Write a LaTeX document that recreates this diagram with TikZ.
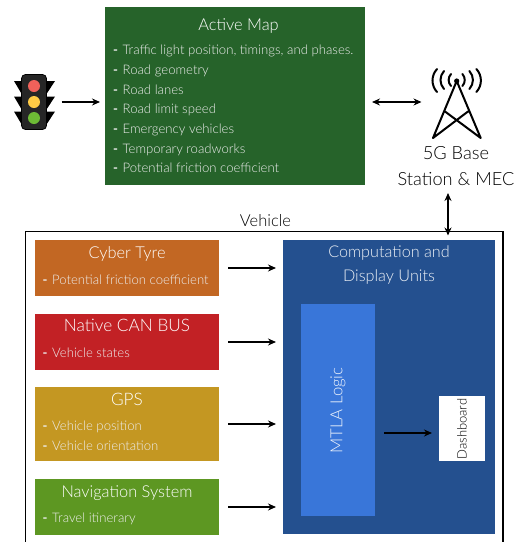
\documentclass[tikz,border=0pt]{standalone}
\usepackage{fontspec}
\setmainfont{Lato}[UprightFont=* Light,BoldFont=* Bold]
\usetikzlibrary{arrows.meta}
\definecolor{mapgreen}{HTML}{26632A}
\definecolor{tyre}{HTML}{C26723}
\definecolor{can}{HTML}{C22125}
\definecolor{gps}{HTML}{C49722}
\definecolor{nav}{HTML}{5D9722}
\definecolor{comp}{HTML}{24508F}
\definecolor{mtla}{HTML}{3976D9}
\definecolor{lampred}{HTML}{F0615A}
\definecolor{lampyellow}{HTML}{FFCB45}
\definecolor{lampgreen}{HTML}{6DBB35}
\newcommand{\dashitem}[1]{\textbf{-}\hspace{4.6pt}#1}
\tikzset{
  x=1pt,y=-1pt,
  panel/.style={inner sep=0pt,outer sep=0pt,anchor=north west},
  head/.style={text=white,font=\fontsize{16.4}{20}\selectfont,anchor=base,inner sep=0pt},
  items/.style={text=white!93!black,font=\fontsize{13.15}{19.7}\selectfont,align=left,anchor=west,inner sep=0pt},
  arr/.style={line width=1.3pt,-{Stealth[length=8pt,width=7pt]}},
  dbl/.style={line width=1.3pt,{Stealth[length=8pt,width=7pt]}-{Stealth[length=8pt,width=7pt]}},
  plain/.style={text=black,font=\fontsize{16.5}{26}\selectfont,inner sep=0pt,align=center},
  wave/.style={line width=2pt,line cap=round},
  tower/.style={line width=2pt,line cap=round,line join=round}
}
\begin{document}
\begin{tikzpicture}
\useasboundingbox (0,0) rectangle (527,542);
\fill[white] (0,0) rectangle (527,542);

% vehicle frame (runs off the bottom)
\coordinate (vbl) at (25.5,542);
\coordinate (vtl) at (25.5,231.5);
\coordinate (vtr) at (503,231.5);
\coordinate (vbr) at (503,542);
\draw[line width=1.3pt] (vbl) -- (vtl) -- (vtr) -- (vbr);
\node[plain] (vehiclelabel) at (265.5,220.5) {Vehicle};

% panels
\node[panel,fill=mapgreen,minimum width=260pt,minimum height=178pt] (map) at (105,7) {};
\node[head] (maphead) at (238.5,30) {Active Map};
\node[items] (maplist) at (113,109) {\dashitem{Traffic light position, timings, and phases.}\\\dashitem{Road geometry}\\\dashitem{Road lanes}\\\dashitem{Road limit speed}\\\dashitem{Emergency vehicles}\\\dashitem{Temporary roadworks}\\\dashitem{Potential friction coefficient}};

\node[panel,fill=tyre,minimum width=184pt,minimum height=56pt] (cyber) at (35,240) {};
\node[head] (cyberhead) at (127,258) {Cyber Tyre};
\node[items] (cyberlist) at (42.5,279.5) {\dashitem{Potential friction coefficient}};

\node[panel,fill=can,minimum width=184pt,minimum height=56pt] (canbus) at (35,314) {};
\node[head,font=\fontsize{17.2}{20}\selectfont] (canhead) at (127,331.5) {Native CAN BUS};
\node[items] (canlist) at (42.5,353) {\dashitem{Vehicle states}};

\node[panel,fill=gps,minimum width=184pt,minimum height=74pt] (gpsbox) at (35,387) {};
\node[head,font=\fontsize{17.2}{20}\selectfont] (gpshead) at (127,405) {GPS};
\node[items] (gpslist) at (42.5,436) {\dashitem{Vehicle position}\\\dashitem{Vehicle orientation}};

\node[panel,fill=nav,minimum width=184pt,minimum height=56pt] (navbox) at (35,479) {};
\node[head] (navhead) at (127,497) {Navigation System};
\node[items] (navlist) at (42.5,518.5) {\dashitem{Travel itinerary}};

\node[panel,fill=comp,minimum width=212pt,minimum height=294pt] (compbox) at (283,240) {};
\node[anchor=center,inner sep=0pt,align=center,font=\fontsize{16.2}{24}\selectfont,text=white!92!comp] (comphead) at (389,265.5) {Computation and\\Display Units};
\node[panel,fill=mtla,minimum width=74pt,minimum height=212pt] (logic) at (301,304) {};
\node[anchor=center,inner sep=0pt,rotate=90,text=white!92!mtla,font=\fontsize{16.7}{20}\selectfont] (logiclabel) at (338,410.5) {MTLA Logic};
\node[panel,fill=white,minimum width=46pt,minimum height=65pt] (dash) at (439,396) {};
\node[rotate=90,inner sep=0pt,text=black,font=\fontsize{13}{15}\selectfont] (dashlabel) at (462,429) {Dashboard};

% traffic light
\fill[black] (14,81) -- (21.7,81) -- (21.7,94) -- cycle;
\fill[black] (14,96.5) -- (21.7,96.5) -- (21.7,109.5) -- cycle;
\fill[black] (14,111.5) -- (21.7,111.5) -- (21.7,124.5) -- cycle;
\fill[black] (55,81) -- (46.5,81) -- (46.5,94) -- cycle;
\fill[black] (55,96.5) -- (46.5,96.5) -- (46.5,109.5) -- cycle;
\fill[black] (55,111.5) -- (46.5,111.5) -- (46.5,124.5) -- cycle;
\node[panel,anchor=center,draw=black,line width=0.8pt,fill=black!85,rounded corners=4pt,minimum width=25pt,minimum height=55pt] (light) at (34,102) {};
\fill[lampred] (34,86) circle (6);
\fill[lampyellow] (34,102) circle (6);
\fill[lampgreen] (34,118) circle (6);

% tower
\coordinate (towertop) at (456.7,81);
\coordinate (towerl) at (433,138);
\coordinate (towerr) at (480.7,138);
\coordinate (crossl) at (445,111.5);
\coordinate (crossr) at (468,111.5);
\node[inner sep=0pt,minimum width=58pt,minimum height=70pt] (tower) at (456.7,102) {};
\draw[tower] (towerl) -- (towertop) -- (towerr) (crossl) -- (towerr) (crossr) -- (towerl);
\fill (towertop) circle (2.6);
\draw[wave] (451,74) to[bend right=42] (451,86);
\draw[wave] (444,71) to[bend right=42] (444,89);
\draw[wave] (437,69) to[bend right=42] (437,92);
\draw[wave] (462.4,74) to[bend left=42] (462.4,86);
\draw[wave] (469.4,71) to[bend left=42] (469.4,89);
\draw[wave] (476.4,69) to[bend left=42] (476.4,92);
\node[plain,font=\fontsize{18.2}{26}\selectfont] (station) at (456,166) {5G Base\\Station \& MEC};

% connectors
\draw[arr,shorten <=15pt,shorten >=5pt] (light.east) -- (map.west |- light.east);
\draw[dbl,shorten <=7pt,shorten >=6pt] (map.east |- tower.west) -- (tower.west);
\coordinate (stationfoot) at (448,189);
\coordinate (vtop) at (448,231.5);
\draw[dbl,shorten <=4pt,shorten >=-4pt] (stationfoot) -- (vtop);
\draw[arr,shorten <=9pt,shorten >=7pt] (cyber.east) -- (compbox.west |- cyber.east);
\draw[arr,shorten <=9pt,shorten >=7pt] (canbus.east) -- (compbox.west |- canbus.east);
\draw[arr,shorten <=9pt,shorten >=7pt] (gpsbox.east) -- (compbox.west |- gpsbox.east);
\draw[arr,shorten <=9pt,shorten >=7pt] (navbox.east) -- (compbox.west |- navbox.east);
\coordinate (logicout) at (logic.east |- 0,433);
\draw[arr,shorten <=9pt,shorten >=7pt] (logicout) -- (dash.west |- logicout);
\end{tikzpicture}
\end{document}
